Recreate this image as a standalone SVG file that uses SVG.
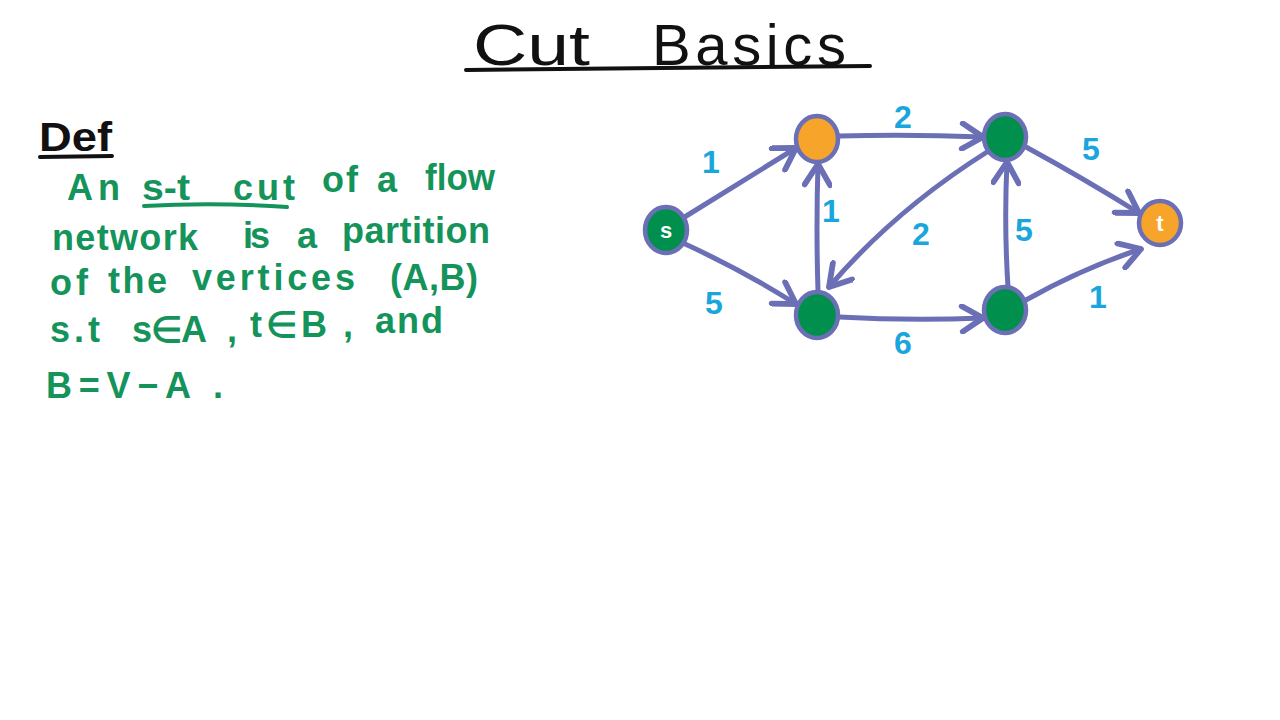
<svg xmlns="http://www.w3.org/2000/svg" width="1280" height="720" viewBox="0 0 1280 720">
<defs>
<marker id="arr" markerUnits="userSpaceOnUse" markerWidth="30" markerHeight="30" viewBox="-22 -13 26 26" refX="0" refY="0" orient="auto">
<path d="M-18,-11 L0,0 L-18,11" fill="none" stroke="#6b70b6" stroke-width="5" stroke-linecap="round" stroke-linejoin="round"/>
</marker>
<style>
.title{font-family:"Liberation Sans",Arial,sans-serif;font-size:58px;fill:#111}
.def{font-family:"Liberation Sans",Arial,sans-serif;font-size:40px;font-weight:bold;fill:#111}
.t{font-family:"Liberation Sans",Arial,sans-serif;font-size:36px;font-weight:bold;fill:#14935a}
.edge{fill:none;stroke:#6b70b6;stroke-width:5;stroke-linecap:round;marker-end:url(#arr)}
.node{stroke:#6b70b6;stroke-width:4.5}
.g{fill:#008f4c}
.o{fill:#f7a42b}
.lbl{font-family:"Liberation Sans",Arial,sans-serif;font-size:32px;font-weight:bold;fill:#19a6dc;text-anchor:middle}
.nl{font-family:"Liberation Sans",Arial,sans-serif;font-size:22px;font-weight:bold;fill:#fff;text-anchor:middle}
.ul{stroke-linecap:round;fill:none}
</style>
</defs>
<rect width="1280" height="720" fill="#fff"/>
<g id="title">
<text class="title" x="473" y="65" textLength="117" lengthAdjust="spacingAndGlyphs">Cut</text>
<text class="title" x="652" y="65" textLength="194" lengthAdjust="spacing">Basics</text>
<path class="ul" d="M466,70 L870,66" stroke="#111" stroke-width="4"/>
</g>
<g id="definition">
<text class="def" x="39" y="151" textLength="73" lengthAdjust="spacingAndGlyphs">Def</text>
<path class="ul" d="M40,157 L112,156" stroke="#111" stroke-width="4"/>
<text class="t" y="200"><tspan x="67">A</tspan><tspan x="98">n</tspan></text>
<text class="t" x="142" y="200" textLength="48" lengthAdjust="spacingAndGlyphs">s-t</text>
<text class="t" x="233" y="200" textLength="62" lengthAdjust="spacing">cut</text>
<text class="t" y="192"><tspan x="322">o</tspan><tspan x="346">f</tspan><tspan x="377">a</tspan></text>
<text class="t" x="425" y="190" textLength="70" lengthAdjust="spacingAndGlyphs">flow</text>
<path class="ul" d="M144,206 Q215,202 287,207" stroke="#14935a" stroke-width="4"/>
<text class="t" x="52" y="250" textLength="146" lengthAdjust="spacing">network</text>
<text class="t" x="243" y="248" textLength="27" lengthAdjust="spacing">is</text>
<text class="t" x="297" y="248">a</text>
<text class="t" x="342" y="243" textLength="148" lengthAdjust="spacing">partition</text>
<text class="t" x="50" y="295" textLength="38" lengthAdjust="spacing">of</text>
<text class="t" x="108" y="293" textLength="59" lengthAdjust="spacing">the</text>
<text class="t" x="192" y="290" textLength="163" lengthAdjust="spacing">vertices</text>
<text class="t" x="390" y="290" textLength="88" lengthAdjust="spacing">(A,B)</text>
<text class="t" x="50" y="342" textLength="50" lengthAdjust="spacing">s.t</text>
<text class="t" x="132" y="342" textLength="75" lengthAdjust="spacing">s∈A</text>
<text class="t" x="227" y="342">,</text>
<text class="t" x="250" y="337" textLength="77" lengthAdjust="spacing">t∈B</text>
<text class="t" x="343" y="337">,</text>
<text class="t" x="375" y="333" textLength="68" lengthAdjust="spacing">and</text>
<text class="t" x="46" y="398" textLength="177" lengthAdjust="spacing">B=V−A .</text>
</g>
<g id="connectors">
<path class="edge" d="M683,218 Q738,184 796,148"/>
<path class="edge" d="M683,243 Q742,270 796,304"/>
<path class="edge" d="M839,136 Q910,134 983,137"/>
<path class="edge" d="M818,291 Q816,228 818,164"/>
<path class="edge" d="M987,152 Q895,210 829,287"/>
<path class="edge" d="M1026,147 Q1083,178 1139,213"/>
<path class="edge" d="M1008,287 Q1004,225 1007,162"/>
<path class="edge" d="M839,317 Q910,321 983,318"/>
<path class="edge" d="M1026,300 Q1083,268 1141,249"/>
</g>
<g id="edge-labels">
<text class="lbl" x="711" y="173">1</text>
<text class="lbl" x="714" y="314">5</text>
<text class="lbl" x="903" y="128">2</text>
<text class="lbl" x="831" y="222">1</text>
<text class="lbl" x="921" y="245">2</text>
<text class="lbl" x="1091" y="160">5</text>
<text class="lbl" x="1024" y="241">5</text>
<text class="lbl" x="903" y="354">6</text>
<text class="lbl" x="1098" y="308">1</text>
</g>
<g id="node-s"><ellipse class="node g" cx="666" cy="230" rx="21" ry="23"/><text class="nl" x="666" y="238">s</text></g>
<g id="node-a"><ellipse class="node o" cx="817" cy="139" rx="21" ry="23"/></g>
<g id="node-c"><ellipse class="node g" cx="1005" cy="137" rx="21" ry="23"/></g>
<g id="node-b"><ellipse class="node g" cx="817" cy="315" rx="21" ry="23"/></g>
<g id="node-d"><ellipse class="node g" cx="1005" cy="310" rx="21" ry="23"/></g>
<g id="node-t"><ellipse class="node o" cx="1160" cy="223" rx="21" ry="22"/><text class="nl" x="1160" y="231">t</text></g>
</svg>
